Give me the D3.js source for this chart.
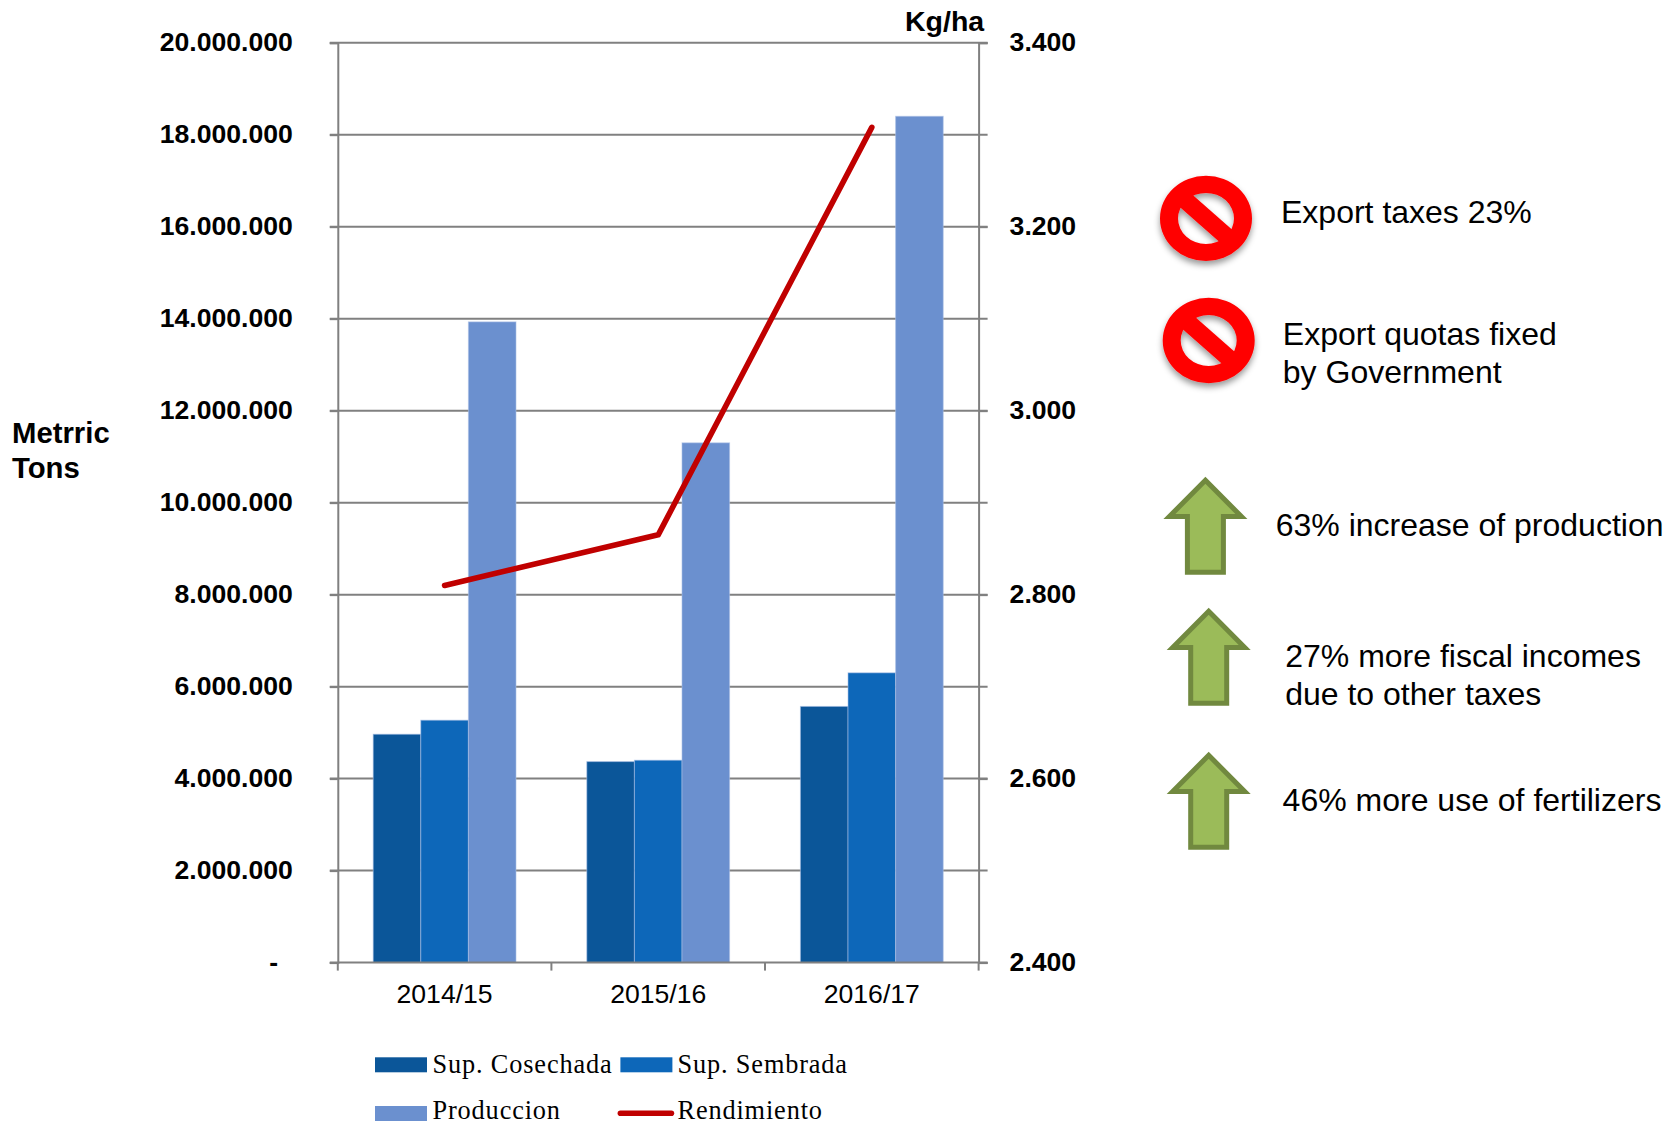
<!DOCTYPE html>
<html>
<head>
<meta charset="utf-8">
<script src="https://cdn.jsdelivr.net/npm/d3@7"></script>
<style>
  html, body { margin: 0; padding: 0; background: #fff; }
  svg { display: block; }
  text { font-family: "Liberation Sans", Arial, sans-serif; fill: #000; }
  .tick-bold text { font-weight: bold; font-size: 26.6px; }
  .legend text { font-family: "Liberation Serif", serif; font-size: 26.3px; letter-spacing: 0.86px; }
  .note { font-size: 32px; }
</style>
</head>
<body>
<svg id="chart" width="1673" height="1125"></svg>
<script>
// Marketing-year categories and the series plotted for each one
const seasons = ["2014/15", "2015/16", "2016/17"];
const supCosechada = [4965000, 4370000, 5570000];
const supSembrada = [5270000, 4400000, 6300000];
const produccion = [13930000, 11300000, 18400000];
const rendimiento = [2810, 2865, 3308];

const tonTicks = [0, 2000000, 4000000, 6000000, 8000000, 10000000, 12000000, 14000000, 16000000, 18000000, 20000000];
const yieldTicks = [2400, 2600, 2800, 3000, 3200, 3400];

const barSeries = ["Sup. Cosechada", "Sup. Sembrada", "Produccion"];
const barValues = [supCosechada, supSembrada, produccion];
const barColors = ["#0B5699", "#0D67B9", "#6B90CF"];
const lineColor = "#C00000";
const axisColor = "#808080";

// Policy notes beside the chart: icon centre, text start and first baseline
const bans = [
  { cx: 1206, cy: 218.4, x: 1281, y: 222.7, lines: ["Export taxes 23%"] },
  { cx: 1208.7, cy: 340.5, x: 1282.8, y: 345.3, lines: ["Export quotas fixed", "by Government"] }
];
const gains = [
  { cx: 1205.4, tip: 477.5, x: 1275.7, y: 536, lines: ["63% increase of production"] },
  { cx: 1208.7, tip: 608.5, x: 1285.2, y: 666.7, lines: ["27% more fiscal incomes", "due to other taxes"] },
  { cx: 1208.7, tip: 752.5, x: 1282.6, y: 811, lines: ["46% more use of fertilizers"] }
];

const plotLeft = 337.8, plotRight = 978.6, plotTop = 42.7, plotBottom = 962.6;
const svg = d3.select("#chart");

const x = d3.scaleBand().domain(seasons).range([plotLeft, plotRight]).paddingInner(0.3315).paddingOuter(0.1657);
const xInner = d3.scaleBand().domain(barSeries).range([0, x.bandwidth()]);
const yTons = d3.scaleLinear().domain([0, 20000000]).range([plotBottom, plotTop]);
const yYield = d3.scaleLinear().domain([2400, 3400]).range([plotBottom, plotTop]);

const dotted = d3.formatLocale({ decimal: ",", thousands: ".", grouping: [3], currency: ["", ""] }).format(",d");

// Horizontal grid, reaching a little past both vertical axes
svg.append("g").selectAll("line").data(tonTicks.slice(1)).join("line")
  .attr("x1", plotLeft - 8).attr("x2", plotRight + 9)
  .attr("y1", d => yTons(d)).attr("y2", d => yTons(d))
  .attr("stroke", axisColor).attr("stroke-width", 2);

// Grouped bars with a faint pale edge
const groups = svg.append("g").selectAll("g").data(seasons).join("g")
  .attr("transform", d => `translate(${x(d)},0)`);
groups.selectAll("rect")
  .data((d, i) => barSeries.map((name, k) => ({ name, k, value: barValues[k][i] })))
  .join("rect")
  .attr("x", d => xInner(d.name))
  .attr("width", xInner.bandwidth())
  .attr("y", d => yTons(d.value))
  .attr("height", d => plotBottom - yTons(d.value))
  .attr("fill", d => barColors[d.k])
  .attr("stroke", "#A8BEE4")
  .attr("stroke-opacity", 0.6)
  .attr("stroke-width", 1);

// Left axis
const axisLeft = d3.axisLeft(yTons).tickValues(tonTicks).tickSize(8).tickPadding(37)
  .tickFormat(d => d === 0 ? "-\u00A0\u00A0" : dotted(d));
const gLeft = svg.append("g").attr("class", "tick-bold").attr("transform", `translate(${plotLeft},0)`).call(axisLeft);
gLeft.selectAll(".domain").attr("stroke", axisColor).attr("stroke-width", 2);
gLeft.selectAll(".tick line").attr("stroke", axisColor).attr("stroke-width", 2);
gLeft.selectAll(".tick text").attr("dy", "0.28em");

// Right axis
const axisRight = d3.axisRight(yYield).tickValues(yieldTicks).tickSize(9).tickPadding(22)
  .tickFormat(d => dotted(d));
const gRight = svg.append("g").attr("class", "tick-bold").attr("transform", `translate(${plotRight},0)`).call(axisRight);
gRight.selectAll(".domain").attr("stroke", axisColor).attr("stroke-width", 2);
gRight.selectAll(".tick line").attr("stroke", axisColor).attr("stroke-width", 2);
gRight.selectAll(".tick text").attr("dy", "0.28em");

// Bottom axis with ticks between the seasons
const gBottom = svg.append("g").attr("transform", `translate(0,${plotBottom})`);
gBottom.append("line").attr("x1", plotLeft - 8).attr("x2", plotRight + 9)
  .attr("stroke", axisColor).attr("stroke-width", 2);
const step = x.step();
gBottom.selectAll("line.sep").data(d3.range(seasons.length + 1)).join("line")
  .attr("class", "sep")
  .attr("x1", i => plotLeft + i * step).attr("x2", i => plotLeft + i * step)
  .attr("y1", 0).attr("y2", 8)
  .attr("stroke", axisColor).attr("stroke-width", 2);
gBottom.selectAll("text").data(seasons).join("text")
  .attr("x", d => x(d) + x.bandwidth() / 2)
  .attr("y", 40)
  .attr("text-anchor", "middle")
  .attr("font-size", 26.6)
  .text(d => d);

// Yield line on the secondary scale
const yieldLine = d3.line()
  .x((d, i) => x(seasons[i]) + x.bandwidth() / 2)
  .y(d => yYield(d));
svg.append("path").datum(rendimiento)
  .attr("d", yieldLine)
  .attr("fill", "none")
  .attr("stroke", lineColor)
  .attr("stroke-width", 5.6)
  .attr("stroke-linecap", "round")
  .attr("stroke-linejoin", "round");

// Axis titles
svg.append("text").attr("x", 905).attr("y", 31).attr("font-size", 28.5).attr("font-weight", "bold").text("Kg/ha");
svg.append("text").attr("x", 12).attr("y", 443).attr("font-size", 29.3).attr("font-weight", "bold").text("Metrric");
svg.append("text").attr("x", 12).attr("y", 478).attr("font-size", 29.3).attr("font-weight", "bold").text("Tons");

// Legend
const legend = svg.append("g").attr("class", "legend");
const legendItems = [
  { name: barSeries[0], color: barColors[0], sx: 375, tx: 432.5, sy: 1057.3, by: 1073 },
  { name: barSeries[1], color: barColors[1], sx: 620.4, tx: 677.5, sy: 1057.3, by: 1073 },
  { name: barSeries[2], color: barColors[2], sx: 375, tx: 432.5, sy: 1106, by: 1119.3 },
  { name: "Rendimiento", color: lineColor, sx: 620.4, tx: 677.5, sy: 1106, by: 1119.3, isLine: true }
];
legendItems.forEach(it => {
  if (it.isLine) {
    legend.append("line").attr("x1", it.sx).attr("x2", it.sx + 51)
      .attr("y1", it.sy + 7.3).attr("y2", it.sy + 7.3)
      .attr("stroke", it.color).attr("stroke-width", 5.6).attr("stroke-linecap", "round");
  } else {
    legend.append("rect").attr("x", it.sx).attr("y", it.sy).attr("width", 52).attr("height", 15).attr("fill", it.color);
  }
  legend.append("text").attr("x", it.tx).attr("y", it.by).text(it.name);
});

// Prohibition signs and growth arrows
const defs = svg.append("defs");
const signShadow = defs.append("filter").attr("id", "signShadow")
  .attr("x", "-20%").attr("y", "-20%").attr("width", "140%").attr("height", "140%");
signShadow.append("feDropShadow").attr("dx", 0).attr("dy", 4).attr("stdDeviation", 3)
  .attr("flood-color", "#000").attr("flood-opacity", 0.4);

const notes = svg.append("g");
bans.forEach(b => {
  const rx = 46, ry = 42.7, ix = 28, iy = 25.5;
  const ring = `M${-rx},0A${rx},${ry} 0 1,0 ${rx},0A${rx},${ry} 0 1,0 ${-rx},0Z` +
               `M${-ix},0A${ix},${iy} 0 1,1 ${ix},0A${ix},${iy} 0 1,1 ${-ix},0Z`;
  const g = notes.append("g").attr("transform", `translate(${b.cx},${b.cy})`).attr("filter", "url(#signShadow)");
  g.append("path").attr("d", ring).attr("fill", "#FF0000").attr("fill-rule", "evenodd");
  g.append("line").attr("x1", -25).attr("y1", -22).attr("x2", 25).attr("y2", 22)
    .attr("stroke", "#FF0000").attr("stroke-width", 17.5);
});

// Arrow outline relative to its tip; the stroke sits inside the 97px tall silhouette
const arrowOutline = [[0, 2.8], [36, 39], [18, 39], [18, 94.7], [-18, 94.7], [-18, 39], [-36, 39]];
gains.forEach(a => {
  notes.append("polygon")
    .attr("transform", `translate(${a.cx},${a.tip})`)
    .attr("points", arrowOutline.map(p => p.join(",")).join(" "))
    .attr("fill", "#9BBB59").attr("stroke", "#71893F").attr("stroke-width", 5).attr("stroke-linejoin", "miter");
});

[...bans, ...gains].forEach(n => {
  n.lines.forEach((line, i) => {
    notes.append("text").attr("class", "note").attr("x", n.x).attr("y", n.y + i * 38).text(line);
  });
});
</script>
</body>
</html>
